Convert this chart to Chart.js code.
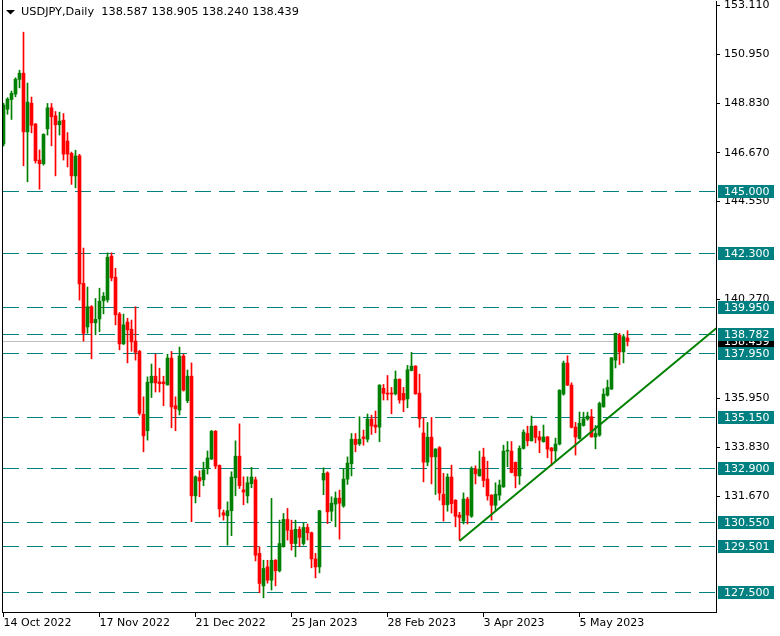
<!DOCTYPE html>
<html><head><meta charset="utf-8">
<script src="https://cdn.jsdelivr.net/npm/chart.js@4/dist/chart.umd.min.js"></script>
<style>html,body{margin:0;padding:0;background:#fff;overflow:hidden}#wrap{width:780px;height:636px;position:relative}</style>
</head><body><div id="wrap"><canvas id="c" width="780" height="636"></canvas></div>
<script>
const chartTitle = "USDJPY,Daily";
const openP = [147.05,148.57,148.99,149.23,149.87,150.14,147.58,148.83,147.92,146.35,
146.19,147.71,148.63,148.28,147.89,148.09,147.18,146.64,145.66,146.53,
140.97,139.07,139.95,139.25,139.42,140.21,140.25,142.16,141.24,139.63,
138.33,139.28,138.97,138.45,138.00,135.26,134.54,136.63,136.92,136.67,
136.67,136.54,137.71,135.63,135.44,137.80,135.85,136.92,131.70,132.50,
132.40,132.88,133.31,134.52,133.03,130.96,130.83,131.05,132.49,133.43,
131.96,131.70,132.23,132.40,129.19,127.77,128.60,128.02,128.89,128.43,
129.48,130.67,130.20,129.62,130.24,129.62,130.32,130.09,128.95,128.60,
132.39,132.70,131.03,131.34,131.60,131.26,132.43,133.10,134.17,133.97,
134.27,134.17,135.05,134.79,134.70,136.39,136.17,136.17,136.15,136.79,
136.17,135.93,137.17,137.36,136.18,134.44,133.17,134.26,133.40,133.80,
131.77,131.31,132.52,131.51,130.86,130.60,131.56,130.81,132.87,132.57,
133.39,132.43,131.73,131.29,131.73,132.09,133.65,133.65,133.16,132.57,
133.77,134.42,134.10,134.74,134.27,134.06,134.27,133.79,133.66,133.96,
136.14,137.49,136.53,134.70,134.20,134.77,135.05,135.15,134.27,134.35,
135.58,136.09,136.36,137.62,138.71,137.98,138.587];
const highP = [148.83,149.07,149.36,149.94,150.27,151.93,149.71,149.10,147.95,146.79,
147.50,148.82,148.82,148.47,148.44,148.38,147.55,146.70,146.78,146.60,
142.51,140.81,140.00,140.31,140.76,140.57,142.30,142.30,141.63,139.70,
139.63,139.45,139.37,139.95,138.05,136.02,136.89,137.45,137.88,137.27,
136.92,137.88,138.00,136.02,138.19,137.88,137.19,137.50,132.57,132.79,
133.17,133.66,134.55,134.55,133.05,131.08,131.44,132.75,134.10,134.84,
132.53,132.53,132.94,132.52,129.48,128.89,128.89,131.59,128.92,130.64,
130.93,131.15,130.64,130.64,130.35,130.52,130.47,130.12,129.19,131.07,
132.92,132.75,131.66,131.87,131.95,132.90,133.40,134.42,134.42,135.15,
134.57,135.27,135.22,135.40,136.55,136.56,136.95,136.43,137.15,136.80,
136.43,137.39,137.96,137.38,137.01,135.10,134.90,135.12,133.76,133.85,
132.68,132.66,133.04,131.53,130.98,131.83,131.64,132.97,133.01,133.65,
133.78,133.21,131.75,132.27,132.39,133.91,134.07,134.07,133.18,133.88,
134.58,134.74,135.18,134.76,134.52,134.79,134.29,133.81,134.22,136.33,
137.58,137.81,136.63,134.90,135.36,135.35,135.35,135.47,134.77,135.79,
136.37,136.75,137.74,138.80,138.79,138.74,138.905];
const lowP = [146.96,148.35,148.12,149.11,149.50,146.10,145.40,147.54,146.22,145.08,
146.13,147.44,146.97,145.66,147.44,146.35,146.05,145.29,145.14,140.24,
138.45,138.79,137.68,138.73,138.86,139.64,140.15,141.08,139.16,138.07,
138.30,137.50,138.01,137.62,135.22,133.62,134.13,135.99,136.23,136.23,
135.63,136.53,134.67,134.54,135.23,136.27,135.76,130.57,131.39,131.66,
132.14,132.65,133.28,132.88,130.78,130.64,129.55,129.96,131.70,132.02,
131.31,131.39,132.05,128.86,127.47,127.25,127.89,127.59,127.77,128.38,
129.46,129.77,129.33,129.04,129.48,129.55,129.77,128.56,128.12,128.34,
131.75,130.49,130.60,130.35,129.81,131.20,132.20,132.57,133.62,133.90,
133.91,134.05,134.38,134.45,134.06,135.88,135.88,135.28,136.10,135.74,
135.37,135.54,137.15,136.13,134.69,132.31,133.01,132.22,131.76,131.51,
130.60,131.03,130.95,130.35,129.77,130.47,130.47,130.76,132.22,132.56,
132.09,131.51,130.64,131.08,131.51,132.07,132.97,132.70,132.05,132.20,
133.74,133.88,134.09,134.01,133.58,134.04,133.36,133.01,133.21,133.92,
136.09,136.51,134.66,133.48,134.17,134.74,135.00,134.26,133.75,134.30,
135.57,136.05,136.34,137.28,137.43,137.50,138.240];
const closeP = [148.75,149.01,149.26,149.88,150.14,147.58,148.88,147.87,146.32,146.19,
147.47,148.63,148.24,147.89,148.05,146.61,146.61,145.66,146.53,140.95,
138.79,139.95,139.25,139.40,140.19,140.41,142.11,141.21,139.60,138.33,
139.16,138.94,138.42,137.96,135.30,134.32,136.66,136.92,136.63,136.59,
136.59,137.71,135.58,135.50,137.80,136.31,136.92,131.70,132.53,132.35,
132.83,133.35,134.52,133.00,131.13,130.86,131.05,132.52,133.43,132.14,
131.87,132.27,132.52,129.11,127.88,128.53,128.02,128.89,128.43,129.62,
130.67,130.20,129.62,130.24,129.89,130.32,130.09,128.95,128.60,131.05,
132.68,131.00,131.38,131.60,131.38,132.43,133.13,134.17,133.94,134.17,
134.20,135.05,134.75,134.70,136.53,136.17,136.14,136.14,136.79,135.88,
135.88,137.20,137.36,136.15,135.06,133.17,134.26,133.40,133.74,131.82,
131.31,132.52,131.36,130.81,130.76,131.56,130.86,132.87,132.66,132.87,
132.37,131.70,131.29,131.77,132.17,133.65,133.66,132.72,132.57,133.77,
134.48,134.10,134.74,134.25,134.13,134.27,133.74,133.66,133.96,136.31,
137.49,136.53,134.69,134.27,134.87,135.06,135.18,134.27,134.42,135.73,
136.14,136.43,137.72,138.79,137.98,138.64,138.439];
const xTickIndex = [0,24,48,72,96,120,144];
const xTickLabels = ["14 Oct 2022","17 Nov 2022","21 Dec 2022","25 Jan 2023","28 Feb 2023","3 Apr 2023","5 May 2023"];
const yTicks = [153.110,150.950,148.830,146.670,144.550,140.270,135.950,133.830,131.670];
const levels = [145.000,142.300,139.950,138.782,137.950,135.150,132.900,130.550,129.501,127.500];
const trendX = [114, 178.2];
const trendY = [129.73, 139.01];
const lastPrice = 138.439;

const UP = '#008000', DOWN = '#ff0000', TEAL = '#008080';
const FONT = 'DejaVu Sans';
const colors = closeP.map((c,i) => c >= openP[i] ? UP : DOWN);

const overlay = {
  id: 'overlay',
  beforeDatasetsDraw(chart) {
    const {ctx, chartArea: a, scales: {y}} = chart;
    ctx.save();
    ctx.beginPath(); ctx.rect(a.left, a.top, a.right - a.left, a.bottom - a.top); ctx.clip();
    ctx.lineWidth = 1;
    ctx.strokeStyle = '#c0c0c0';
    let py = Math.round(y.getPixelForValue(lastPrice)) + 0.5;
    ctx.beginPath(); ctx.moveTo(a.left, py); ctx.lineTo(a.right, py); ctx.stroke();
    ctx.strokeStyle = TEAL;
    ctx.setLineDash([16, 8]);
    levels.forEach(v => {
      const p = Math.round(y.getPixelForValue(v)) + 0.5;
      ctx.beginPath(); ctx.moveTo(a.left + 1, p); ctx.lineTo(a.right, p); ctx.stroke();
    });
    ctx.restore();
  },
  afterDraw(chart) {
    const {ctx, chartArea: a, scales: {y}} = chart;
    ctx.save();
    ctx.strokeStyle = '#000'; ctx.lineWidth = 1;
    ctx.beginPath(); ctx.moveTo(a.left + 0.5, 0); ctx.lineTo(a.left + 0.5, a.bottom); ctx.stroke();
    ctx.fillStyle = '#000';
    ctx.beginPath(); ctx.moveTo(6, 10); ctx.lineTo(15, 10); ctx.lineTo(10.5, 14.5); ctx.closePath(); ctx.fill();
    ctx.font = '11.3px "' + FONT + '"';
    ctx.textBaseline = 'middle'; ctx.textAlign = 'left';
    const vals = [openP, highP, lowP, closeP].map(arr => arr[arr.length - 1].toFixed(3)).join(' ');
    ctx.fillText(chartTitle + '  ' + vals, 21, 12);
    ctx.font = '11px "' + FONT + '"';
    const label = (v, bg) => {
      const p = Math.round(y.getPixelForValue(v));
      ctx.fillStyle = bg;
      ctx.fillRect(718, p - 6, 56, 13);
      ctx.fillStyle = '#fff';
      ctx.fillText(v.toFixed(3), 724, p + 1);
    };
    label(lastPrice, '#000');
    levels.forEach(v => label(v, TEAL));
    ctx.restore();
  }
};

function noPad(s) { s.paddingTop = 0; s.paddingBottom = 0; s.paddingLeft = 0; s.paddingRight = 0; }

new Chart(document.getElementById('c'), {
  type: 'bar',
  data: {
    datasets: [
      {
        type: 'line', order: 0,
        data: trendX.map((x, i) => ({x, y: trendY[i]})),
        borderColor: UP, borderWidth: 2, pointRadius: 0, fill: false, tension: 0
      },
      {
        order: 1, grouped: false, barThickness: 3, minBarLength: 1,
        data: openP.map((o, i) => ({x: i, y: [o, closeP[i]]})),
        backgroundColor: colors, borderWidth: 0
      },
      {
        order: 2, grouped: false, barThickness: 1,
        data: lowP.map((l, i) => ({x: i, y: [l, highP[i]]})),
        backgroundColor: colors, borderWidth: 0
      }
    ]
  },
  options: {
    responsive: false, animation: false, devicePixelRatio: 1,
    layout: {autoPadding: false, padding: {left: 2, top: 1, right: 0, bottom: 0}},
    plugins: {legend: {display: false}, tooltip: {enabled: false}, title: {display: false}},
    scales: {
      x: {
        type: 'linear', min: -0.375, max: 178.125, offset: false,
        afterBuildTicks: s => { s.ticks = xTickIndex.map(v => ({value: v})); },
        afterFit: s => { s.height = 24; noPad(s); },
        ticks: {
          callback: (v, i) => xTickLabels[i], align: 'start', maxRotation: 0, minRotation: 0,
          autoSkip: false, color: '#000', font: {family: FONT, size: 11}, padding: 0
        },
        grid: {drawOnChartArea: false, offset: false, tickLength: 5, color: '#000'},
        border: {display: true, color: '#000', width: 1}
      },
      y: {
        type: 'linear', position: 'right', min: 126.632, max: 153.290,
        afterBuildTicks: s => { s.ticks = yTicks.map(v => ({value: v})); },
        afterFit: s => { s.width = 64; noPad(s); },
        ticks: {
          callback: v => v.toFixed(3), color: '#000', font: {family: FONT, size: 11},
          padding: 4, autoSkip: false
        },
        grid: {drawOnChartArea: false, tickLength: 4, color: '#000'},
        border: {display: true, color: '#000', width: 1}
      }
    }
  },
  plugins: [overlay]
});
</script></body></html>
